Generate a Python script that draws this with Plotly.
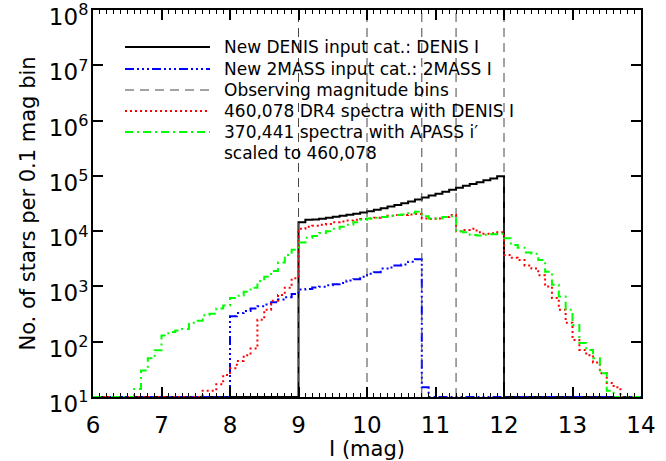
import numpy as np
import plotly.graph_objects as go

# ---- data: counts per 0.1 mag bin (bin start magnitude, counts) ----
mag_lo, mag_hi, bin_w = 6.0, 14.0, 0.1

denis_start = 9.0
denis_counts = [14500, 16000, 16200, 16800, 17500, 18200, 19000, 19800, 20700, 21700,
                23000, 24500, 26000, 27800, 29700, 32000, 34500, 37500, 40500, 44000,
                47500, 51500, 56000, 61000, 66000, 71000, 77000, 83000, 90000, 98000]

twomass_start = 8.0
twomass_counts = [290, 330, 360, 400, 440, 470, 520, 580, 640, 730,
                  880, 900, 960, 990, 1050, 1100, 1150, 1280, 1350, 1500,
                  1700, 1800, 2100, 2200, 2400, 2500, 2800, 3100, 15]

dr4_start = 7.6
dr4_counts = [13, 13, 17, 25, 33, 45, 57, 75, 250, 380,
              550, 700, 950, 1400, 11000, 12000, 12500, 13000, 13500, 14500,
              15000, 15500, 16000, 16500, 17000, 17500, 18000, 19000, 19500, 19500,
              20000, 20500, 17000, 16500, 17000, 18000, 19500, 10000, 10500, 11000,
              9500, 9000, 9200, 9500, 3700, 3300, 3000, 2400, 2100, 1600,
              1000, 620, 380, 220, 107, 71, 57, 42, 27, 18, 15]

apass_start = 6.6
apass_counts = [14, 30, 50, 70, 130, 150, 160, 170, 220, 240,
                300, 320, 400, 450, 620, 680, 800, 950, 1250, 1500,
                1900, 2700, 3700, 4600, 6200, 7600, 8200, 9300, 10000, 11000,
                12000, 13000, 14500, 16000, 17000, 17500, 18000, 19000, 19500, 20000,
                21000, 22500, 18500, 17000, 17000, 18000, 18500, 10000, 9500, 8500,
                8300, 8600, 8800, 9000, 7400, 5600, 5000, 4100, 3900, 3000,
                1850, 1070, 660, 380, 200, 95, 71, 50, 27, 13]

obs_bin_edges = [9.0, 10.0, 10.8, 11.3, 12.0]

x_ticks = [6, 7, 8, 9, 10, 11, 12, 13, 14]
y_exponents = [1, 2, 3, 4, 5, 6, 7, 8]

legend_labels = ["New DENIS input cat.: DENIS I",
                 "New 2MASS input cat.: 2MASS I",
                 "Observing magnitude bins",
                 "460,078 DR4 spectra with DENIS I",
                 "370,441 spectra with APASS i\u2032"]
legend_extra_line = "scaled to 460,078"

# ---- styles ----
font_family = "DejaVu Sans"
styles = [dict(color="black", width=2, dash="solid"),
          dict(color="#0000ff", width=2, dash="9px,3px,2px,3px,2px,3px,2px,3px"),
          dict(color="#474747", width=1, dash="9px,6px"),
          dict(color="#ff0000", width=2, dash="2px,3px"),
          dict(color="#00ff00", width=2, dash="8px,4px,2px,4px")]

# ---- build step histograms on the common bin grid ----
nbins = int(round((mag_hi - mag_lo) / bin_w))
edges = np.round(mag_lo + bin_w * np.arange(nbins + 1), 1)
floor_val = 10.0 ** y_exponents[0]


def full_hist(start, counts):
    y = np.zeros(nbins)
    i0 = int(round((start - mag_lo) / bin_w))
    y[i0:i0 + len(counts)] = counts
    y = np.maximum(y, floor_val)  # empty bins drawn at the plot floor
    return np.append(y, y[-1])


fig = go.Figure()
hists = {0: (denis_start, denis_counts), 1: (twomass_start, twomass_counts),
         3: (dr4_start, dr4_counts), 4: (apass_start, apass_counts)}
for i in range(5):
    if i == 2:
        vx, vy = [], []
        for e in obs_bin_edges:
            vx += [e, e, None]
            vy += [floor_val, 10.0 ** y_exponents[-1], None]
        fig.add_trace(go.Scatter(x=vx, y=vy, mode="lines", name=legend_labels[i],
                                 line=styles[i], showlegend=False))
    else:
        start, counts = hists[i]
        fig.add_trace(go.Scatter(x=edges, y=full_hist(start, counts), mode="lines",
                                 line_shape="hv", line=styles[i], name=legend_labels[i],
                                 showlegend=False))

# ---- in-plot legend (IDL style, no box) ----
plot_l, plot_r, plot_t, plot_b = 93, 641, 10, 397
row_px = [47, 69, 90, 111, 132, 153]
key_x0_px, key_x1_px, text_x_px = 125, 210, 222


def px_to_paper_x(px):
    return (px - plot_l) / (plot_r - plot_l)


def px_to_paper_y(py):
    return (plot_b - py) / (plot_b - plot_t)


shapes, annotations = [], []
texts = legend_labels + [legend_extra_line]
for k, txt in enumerate(texts):
    yp = px_to_paper_y(row_px[k])
    annotations.append(dict(text=txt, xref="paper", yref="paper",
                            x=px_to_paper_x(text_x_px), y=yp, xanchor="left",
                            yanchor="middle", showarrow=False,
                            font=dict(family=font_family, size=17, color="black")))
    if k < len(styles):
        shapes.append(dict(type="line", xref="paper", yref="paper",
                           x0=px_to_paper_x(key_x0_px), x1=px_to_paper_x(key_x1_px),
                           y0=yp, y1=yp, line=styles[k]))

fig.update_layout(
    width=666, height=461,
    margin=dict(l=plot_l, r=666 - plot_r, t=plot_t, b=461 - plot_b),
    paper_bgcolor="white", plot_bgcolor="white",
    font=dict(family=font_family, color="black"),
    showlegend=False,
    shapes=shapes, annotations=annotations,
)
fig.update_xaxes(
    range=[mag_lo, mag_hi], tickvals=x_ticks, ticktext=[str(t) for t in x_ticks],
    ticks="inside", ticklen=10, tickwidth=1.5, tickcolor="black",
    minor=dict(ticks="inside", ticklen=4, dtick=bin_w, tickcolor="black", tickwidth=1),
    showline=True, linecolor="black", linewidth=2, mirror="allticks",
    showgrid=False, zeroline=False, ticklabeloverflow="allow", automargin=False,
    ticklabelstandoff=6,
    tickfont=dict(family=font_family, size=23),
    title=dict(text="I (mag)", font=dict(family=font_family, size=21), standoff=11),
)
fig.update_yaxes(
    type="log", range=[y_exponents[0], y_exponents[-1]],
    tickvals=[10.0 ** e for e in y_exponents],
    ticktext=["10<sup>%d</sup>" % e for e in y_exponents],
    ticks="inside", ticklen=10, tickwidth=1.5, tickcolor="black",
    showline=True, linecolor="black", linewidth=2, mirror="allticks",
    showgrid=False, zeroline=False, ticklabeloverflow="allow", automargin=False,
    ticklabelstandoff=-2, ticklabelshift=7,
    tickfont=dict(family=font_family, size=23),
    title=dict(text="No. of stars per 0.1 mag bin", font=dict(family=font_family, size=21),
               standoff=8),
)

fig.write_html("out.html")
